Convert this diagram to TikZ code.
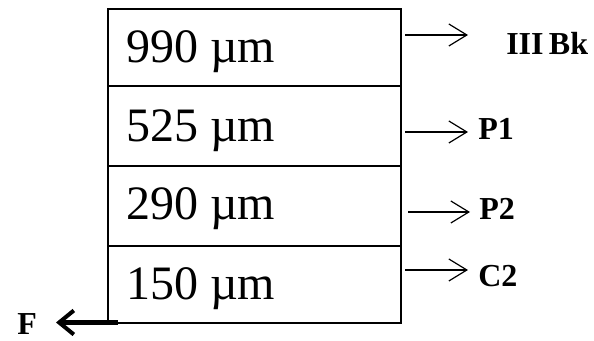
\documentclass[tikz,border=0pt]{standalone}
\usepackage{fontspec}
\setmainfont{Liberation Serif}
\usetikzlibrary{arrows.meta}
\begin{document}
\begin{tikzpicture}[x=0.75pt,y=-0.75pt,
  layer/.style={draw,line width=1.5pt,minimum width=219.75pt,anchor=north west,inner sep=0pt},
  size/.style={font=\fontsize{36}{38}\selectfont,anchor=base west,inner sep=0pt},
  tag/.style={font=\fontsize{24}{26}\bfseries\selectfont,anchor=base west,inner sep=0pt},
  link/.style={line width=0.9pt,-{Straight Barb[length=13.5pt,width=16.5pt,line width=0.9pt]}},
  force/.style={line width=3.2pt,-{Straight Barb[length=11pt,width=18pt,line width=3pt]}}]
\useasboundingbox (0,0) rectangle (594,341);
% stacked layers
\node[layer,minimum height=57.75pt] (r1) at (107,8) {};
\node[layer,minimum height=60pt] (r2) at (107,85) {};
\node[layer,minimum height=60pt] (r3) at (107,165) {};
\node[layer,minimum height=57.75pt] (r4) at (107,245) {};
% thickness values
\node[size] (t1) at (126,63) {990 µm};
\node[size] (t2) at (126,142) {525 µm};
\node[size] (t3) at (126,220) {290 µm};
\node[size] (t4) at (126,300) {150 µm};
% layer names
\node[tag] (l1) at (506,55) {III\,Bk};
\node[tag] (l2) at (478,140) {P1};
\node[tag] (l3) at (479,220) {P2};
\node[tag] (l4) at (478,287) {C2};
% arrows to the names
\coordinate (a1) at (405,35);  \coordinate (b1) at (468,35);
\coordinate (a2) at (405,132); \coordinate (b2) at (468,132);
\coordinate (a3) at (408,212); \coordinate (b3) at (470,212);
\coordinate (a4) at (405,270); \coordinate (b4) at (468,270);
\draw[link] (a1) -- (b1);
\draw[link] (a2) -- (b2);
\draw[link] (a3) -- (b3);
\draw[link] (a4) -- (b4);
% force at the lower left corner
\coordinate (f0) at (118,322.5);
\coordinate (f1) at (56,322.5);
\draw[force] (f0) -- (f1);
\node[tag] (F) at (17,335) {F};
\end{tikzpicture}
\end{document}
